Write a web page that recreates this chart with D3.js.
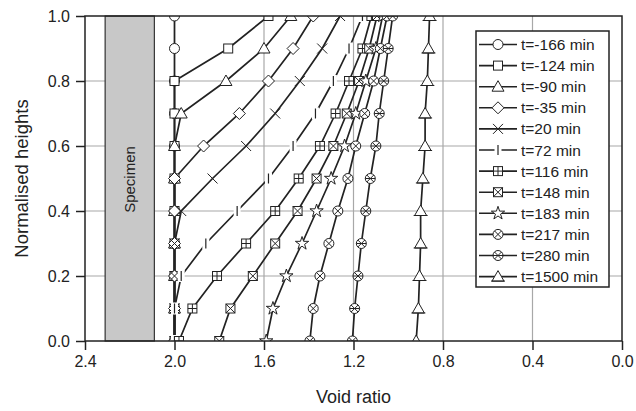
<!DOCTYPE html>
<html>
<head>
<meta charset="utf-8">
<script src="https://cdn.jsdelivr.net/npm/d3@7"></script>
<style>
body { margin: 0; background: #fff; }
text { font-family: "Liberation Sans", Arial, sans-serif; fill: #222; }
</style>
</head>
<body>
<div id="main"></div>
<script>
var ctx = { w: 636, h: 411 };

// normalised heights of the measuring points
var heights = [0, 0.1, 0.2, 0.3, 0.4, 0.5, 0.6, 0.7, 0.8, 0.9, 1.0];

var seriesNames = ["t=-166 min", "t=-124 min", "t=-90 min", "t=-35 min", "t=20 min", "t=72 min",
                   "t=116 min", "t=148 min", "t=183 min", "t=217 min", "t=280 min", "t=1500 min"];
var markerTypes = ["circle", "square", "triangle", "diamond", "times", "bar",
                   "squarePlus", "squareTimes", "star", "circleTimes", "circleStar", "triangleBase"];

// void ratio at each height (bottom -> top)
var e166  = [2.00, 2.00, 2.00, 2.00, 2.00, 2.00, 2.00, 2.00, 2.00, 2.00, 2.00];
var e124  = [2.00, 2.00, 2.00, 2.00, 2.00, 2.00, 2.00, 2.00, 2.00, 1.76, 1.58];
var e90   = [2.00, 2.00, 2.00, 2.00, 2.00, 2.00, 2.00, 1.97, 1.77, 1.60, 1.48];
var e35   = [2.00, 2.00, 2.00, 2.00, 2.00, 2.00, 1.87, 1.71, 1.58, 1.47, 1.38];
var e20   = [2.00, 2.00, 2.00, 2.00, 1.97, 1.83, 1.68, 1.55, 1.44, 1.34, 1.26];
var e72   = [2.00, 2.00, 1.97, 1.86, 1.72, 1.58, 1.47, 1.37, 1.29, 1.22, 1.16];
var e116  = [1.98, 1.92, 1.81, 1.68, 1.55, 1.445, 1.35, 1.28, 1.22, 1.16, 1.12];
var e148  = [1.80, 1.75, 1.65, 1.55, 1.45, 1.365, 1.29, 1.23, 1.175, 1.13, 1.095];
var e183  = [1.59, 1.56, 1.50, 1.43, 1.365, 1.30, 1.24, 1.19, 1.145, 1.10, 1.07];
var e217  = [1.395, 1.38, 1.35, 1.31, 1.27, 1.225, 1.19, 1.15, 1.11, 1.08, 1.05];
var e280  = [1.205, 1.195, 1.18, 1.165, 1.145, 1.125, 1.10, 1.085, 1.065, 1.045, 1.025];
var e1500 = [0.92, 0.91, 0.905, 0.90, 0.90, 0.89, 0.88, 0.88, 0.87, 0.865, 0.86];
var seriesValues = [e166, e124, e90, e35, e20, e72, e116, e148, e183, e217, e280, e1500];

var xTicks = [2.4, 2.0, 1.6, 1.2, 0.8, 0.4, 0.0];
var yTicks = [0.0, 0.2, 0.4, 0.6, 0.8, 1.0];
var specimen = [2.31, 2.09];

var margin = { left: 85, right: 14, top: 16, bottom: 70 };

var x = d3.scaleLinear().domain([2.4, 0]).range([margin.left, ctx.w - margin.right]);
var y = d3.scaleLinear().domain([0, 1]).range([ctx.h - margin.bottom, margin.top]);

var svg = d3.select("#main").append("svg").attr("width", ctx.w).attr("height", ctx.h);

svg.append("clipPath").attr("id", "plotclip").append("rect")
   .attr("x", x(2.4)).attr("y", y(1)).attr("width", x(0) - x(2.4)).attr("height", y(0) - y(1));

// gridlines
svg.append("g").selectAll("line.gx").data(xTicks.slice(1, -1)).enter().append("line")
   .attr("x1", d => x(d)).attr("x2", d => x(d)).attr("y1", y(0)).attr("y2", y(1))
   .style("stroke", "#a8a8a8").style("stroke-width", 1.2);
svg.append("g").selectAll("line.gy").data(yTicks.slice(1, -1)).enter().append("line")
   .attr("x1", x(2.4)).attr("x2", x(0)).attr("y1", d => y(d)).attr("y2", d => y(d))
   .style("stroke", "#a8a8a8").style("stroke-width", 1.2);

// specimen block
svg.append("rect")
   .attr("x", x(specimen[0])).attr("y", y(1))
   .attr("width", x(specimen[1]) - x(specimen[0])).attr("height", y(0) - y(1))
   .style("fill", "#c8c8c8").style("stroke", "#333").style("stroke-width", 1.2);
svg.append("text")
   .attr("transform", "translate(" + ((x(specimen[0]) + x(specimen[1])) / 2 + 5) + "," + (y(0.5) + 1) + ") rotate(-90)")
   .attr("text-anchor", "middle").style("font-size", "15px").text("Specimen");

// axes
var xAxis = d3.axisBottom(x).tickValues(xTicks).tickFormat(d3.format(".1f")).tickSize(9).tickPadding(6);
var gx = svg.append("g").attr("transform", "translate(0," + y(0) + ")").call(xAxis);
var yAxis = d3.axisLeft(y).tickValues(yTicks).tickFormat(d3.format(".1f")).tickSize(9).tickPadding(6);
var gy = svg.append("g").attr("transform", "translate(" + x(2.4) + ",0)").call(yAxis);
[gx, gy].forEach(function(g) {
    g.select(".domain").remove();
    g.selectAll("line").style("stroke", "#222").style("stroke-width", 1.5);
    g.selectAll("text").style("font-size", "16px").style("font-family", "Liberation Sans, Arial, sans-serif").style("fill", "#222");
});

svg.append("text").attr("x", (x(2.4) + x(0)) / 2).attr("y", 403).attr("text-anchor", "middle")
   .style("font-size", "18px").text("Void ratio");
svg.append("text").attr("transform", "translate(28," + y(0.5) + ") rotate(-90)").attr("text-anchor", "middle")
   .style("font-size", "18.5px").text("Normalised heights");

// markers
function drawMarker(g, type) {
    var st = function(s) { return s.style("stroke", "#222").style("stroke-width", 1).style("fill", "#fff"); };
    switch (type) {
        case "circle": st(g.append("circle").attr("r", 5)); break;
        case "square": st(g.append("rect").attr("x", -4.5).attr("y", -4.5).attr("width", 9).attr("height", 9)); break;
        case "triangle": st(g.append("path").attr("d", "M0,-6L6,4.5L-6,4.5Z")); break;
        case "triangleBase":
            st(g.append("path").attr("d", "M0,-6L6,4.5L-6,4.5Z"));
            g.append("line").attr("x1", -7).attr("x2", 7).attr("y1", 4.5).attr("y2", 4.5).style("stroke", "#222");
            break;
        case "diamond": st(g.append("path").attr("d", "M0,-6L6,0L0,6L-6,0Z")); break;
        case "times": g.append("path").attr("d", "M-5,-5L5,5M-5,5L5,-5").style("stroke", "#222").style("stroke-width", 1); break;
        case "bar":
            g.append("rect").attr("x", -3.5).attr("y", -6).attr("width", 7).attr("height", 12).style("fill", "#fff");
            g.append("line").attr("y1", -5).attr("y2", 5).style("stroke", "#222").style("stroke-width", 1.2);
            break;
        case "squarePlus":
            st(g.append("rect").attr("x", -4.5).attr("y", -4.5).attr("width", 9).attr("height", 9));
            g.append("path").attr("d", "M-4.5,0L4.5,0M0,-4.5L0,4.5").style("stroke", "#222");
            break;
        case "squareTimes":
            st(g.append("rect").attr("x", -4.5).attr("y", -4.5).attr("width", 9).attr("height", 9));
            g.append("path").attr("d", "M-4.5,-4.5L4.5,4.5M-4.5,4.5L4.5,-4.5").style("stroke", "#222");
            break;
        case "star":
            st(g.append("path").attr("d", d3.symbol().type(d3.symbolStar).size(55)()));
            break;
        case "circleTimes":
            st(g.append("circle").attr("r", 5));
            g.append("path").attr("d", "M-3.5,-3.5L3.5,3.5M-3.5,3.5L3.5,-3.5").style("stroke", "#222");
            break;
        case "circleStar":
            st(g.append("circle").attr("r", 5));
            g.append("path").attr("d", "M-3.5,-3.5L3.5,3.5M-3.5,3.5L3.5,-3.5M-5,0L5,0").style("stroke", "#222");
            break;
    }
}

var line = d3.line().x(d => x(d[0])).y(d => y(d[1]));

var series = seriesNames.map(function(name, i) {
    return { name: name, marker: markerTypes[i],
             points: seriesValues[i].map(function(v, j) { return [v, heights[j]]; }) };
});

var plot = svg.append("g").attr("clip-path", "url(#plotclip)");

plot.append("g").selectAll("path").data(series).enter().append("path")
   .attr("d", d => line(d.points))
   .style("fill", "none").style("stroke", "#222").style("stroke-width", 1.7);

series.forEach(function(s) {
    s.points.forEach(function(p) {
        var g = plot.append("g").attr("transform", "translate(" + x(p[0]) + "," + y(p[1]) + ")");
        drawMarker(g, s.marker);
    });
});

// frame
svg.append("rect").attr("x", x(2.4)).attr("y", y(1)).attr("width", x(0) - x(2.4)).attr("height", y(0) - y(1))
   .style("fill", "none").style("stroke", "#222").style("stroke-width", 1.5);

// legend
var lg = svg.append("g");
lg.append("rect").attr("x", 476).attr("y", 31).attr("width", 133).attr("height", 256)
  .style("fill", "#fff").style("stroke", "#222").style("stroke-width", 1.5);
series.forEach(function(s, i) {
    var cy = 44.5 + i * 21.1;
    lg.append("line").attr("x1", 479).attr("x2", 517).attr("y1", cy).attr("y2", cy)
      .style("stroke", "#222").style("stroke-width", 1.6);
    drawMarker(lg.append("g").attr("transform", "translate(498," + cy + ")"), s.marker);
    lg.append("text").attr("x", 521).attr("y", cy + 5.5).style("font-size", "15.5px").text(s.name);
});
</script>
</body>
</html>
